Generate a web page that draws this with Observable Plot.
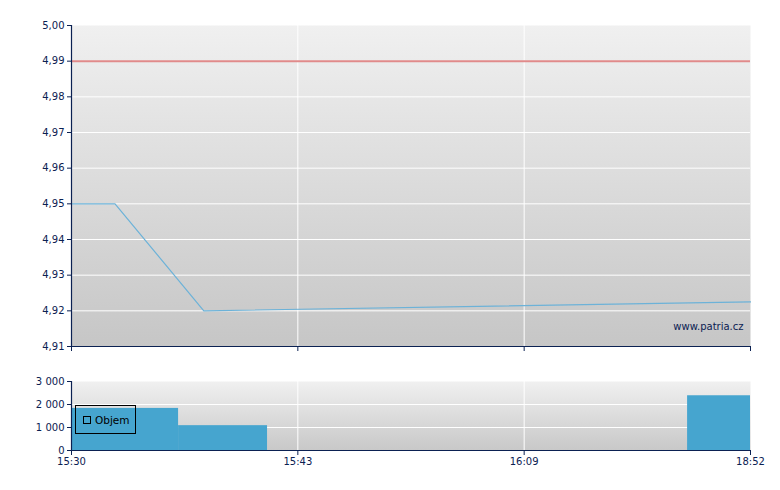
<!DOCTYPE html>
<html><head><meta charset="utf-8">
<script src="https://cdn.jsdelivr.net/npm/d3@7"></script>
<script src="https://cdn.jsdelivr.net/npm/@observablehq/plot@0.6"></script>
<style>
body{margin:0;background:#fff;}
#chart{position:relative;width:780px;font-family:"DejaVu Sans",Verdana,sans-serif;}
#chart svg{display:block;}
#legend{position:absolute;left:75px;top:405px;width:59px;height:27px;border:1px solid #000;box-sizing:content-box;font-size:10.5px;color:#000;}
#legend .sw{position:absolute;left:7px;top:10px;width:6px;height:6px;border:1px solid #000;}
#legend .lb{position:absolute;left:19px;top:8px;line-height:12px;}
</style>
</head><body>
<div id="chart"></div>
<script>
// x-axis tick labels and their times (minutes after 15:30); axis is spaced evenly between ticks
const tickLabels = ["15:30", "15:43", "16:09", "18:52"];
const tickMinutes = [0, 13, 39, 202];
// price line
const priceMinutes = [0, 2.5, 7.6, 202];
const priceValues = [4.95, 4.95, 4.92, 4.9225];
const refPrice = 4.99;
const priceTicks = [4.91, 4.92, 4.93, 4.94, 4.95, 4.96, 4.97, 4.98, 4.99, 5.00];
// volume bars
const volStartMinutes = [0, 6.15, 156.7];
const volEndMinutes = [6.15, 11.26, 202];
const volValues = [1830, 1080, 2380];
const volTicks = [0, 1000, 2000, 3000];

const navy = "#0b2152";
const toPos = d3.scaleLinear().domain(tickMinutes).range(tickMinutes.map((d, i) => i));
const tickPos = tickMinutes.map((d, i) => i);

const priceData = priceMinutes.map((t, i) => ({x: toPos(t), y: priceValues[i]}));
const volData = volValues.map((v, i) => ({x1: toPos(volStartMinutes[i]), x2: toPos(volEndMinutes[i]), v}));

const priceFmt = d => d3.format(".2f")(d).replace(".", ",");
const volFmt = d3.formatLocale({decimal: ",", thousands: " ", grouping: [3], currency: ["", ""]}).format(",");

function gradientDefs(id, c0, c1) {
  return () => {
    const defs = d3.create("svg:defs");
    const g = defs.append("linearGradient").attr("id", id)
      .attr("x1", 0).attr("y1", 0).attr("x2", 0).attr("y2", 1);
    g.append("stop").attr("offset", "0%").attr("stop-color", c0);
    g.append("stop").attr("offset", "100%").attr("stop-color", c1);
    return defs.node();
  };
}

const plotStyle = {fontFamily: "'DejaVu Sans', Verdana, sans-serif", fontSize: "10px", color: navy, background: "transparent", overflow: "visible"};

const priceChart = Plot.plot({
  width: 780, height: 358,
  marginTop: 25, marginBottom: 12, marginLeft: 71, marginRight: 30,
  style: plotStyle,
  x: {domain: [0, 3], label: null},
  y: {domain: [4.91, 5.00], label: null},
  marks: [
    gradientDefs("gTop", "#f0f0f0", "#c6c6c6"),
    Plot.frame({fill: "url(#gTop)", stroke: null}),
    Plot.gridY(priceTicks.slice(1, -1), {stroke: "#fff", strokeOpacity: 1}),
    Plot.gridX(tickPos.slice(1, -1), {stroke: "#fff", strokeOpacity: 1}),
    Plot.ruleY([refPrice], {stroke: "#e08a8a", strokeWidth: 2}),
    Plot.line(priceData, {x: "x", y: "y", stroke: "#6cb2d8", strokeWidth: 1.2}),
    Plot.text(["www.patria.cz"], {frameAnchor: "bottom-right", textAnchor: "end", lineAnchor: "bottom", dx: -7, dy: -17, fill: navy, fontSize: 10}),
    Plot.axisY(priceTicks, {tickFormat: priceFmt, tickSize: 4, tickPadding: 3, stroke: navy, fill: navy, label: null}),
    Plot.axisX(tickPos, {tickFormat: () => "", tickSize: 5, stroke: navy, label: null}),
    Plot.ruleX([0], {stroke: navy, strokeWidth: 1.2}),
    Plot.ruleY([4.91], {stroke: navy, strokeWidth: 1.2})
  ]
});

const volumeChart = Plot.plot({
  width: 780, height: 124,
  marginTop: 23, marginBottom: 32, marginLeft: 71, marginRight: 30,
  style: plotStyle,
  x: {domain: [0, 3], label: null},
  y: {domain: [0, 3000], label: null},
  marks: [
    gradientDefs("gBot", "#f0f0f0", "#c8c8c8"),
    Plot.frame({fill: "url(#gBot)", stroke: null}),
    Plot.gridY(volTicks.slice(1, -1), {stroke: "#fff", strokeOpacity: 1}),
    Plot.gridX(tickPos.slice(1, -1), {stroke: "#fff", strokeOpacity: 1}),
    Plot.rectY(volData, {x1: "x1", x2: "x2", y: "v", fill: "#46a5cf"}),
    Plot.axisY(volTicks, {tickFormat: volFmt, tickSize: 4, tickPadding: 3, stroke: navy, fill: navy, label: null}),
    Plot.axisX(tickPos, {tickFormat: i => tickLabels[i], tickSize: 5, tickPadding: 2, stroke: navy, fill: navy, label: null}),
    Plot.ruleX([0], {stroke: navy, strokeWidth: 1.2}),
    Plot.ruleY([0], {stroke: navy, strokeWidth: 1.2})
  ]
});

const chart = document.getElementById("chart");
chart.append(priceChart, volumeChart);
const legend = document.createElement("div");
legend.id = "legend";
legend.innerHTML = '<div class="sw"></div><div class="lb">Objem</div>';
chart.append(legend);
</script>
</body></html>
